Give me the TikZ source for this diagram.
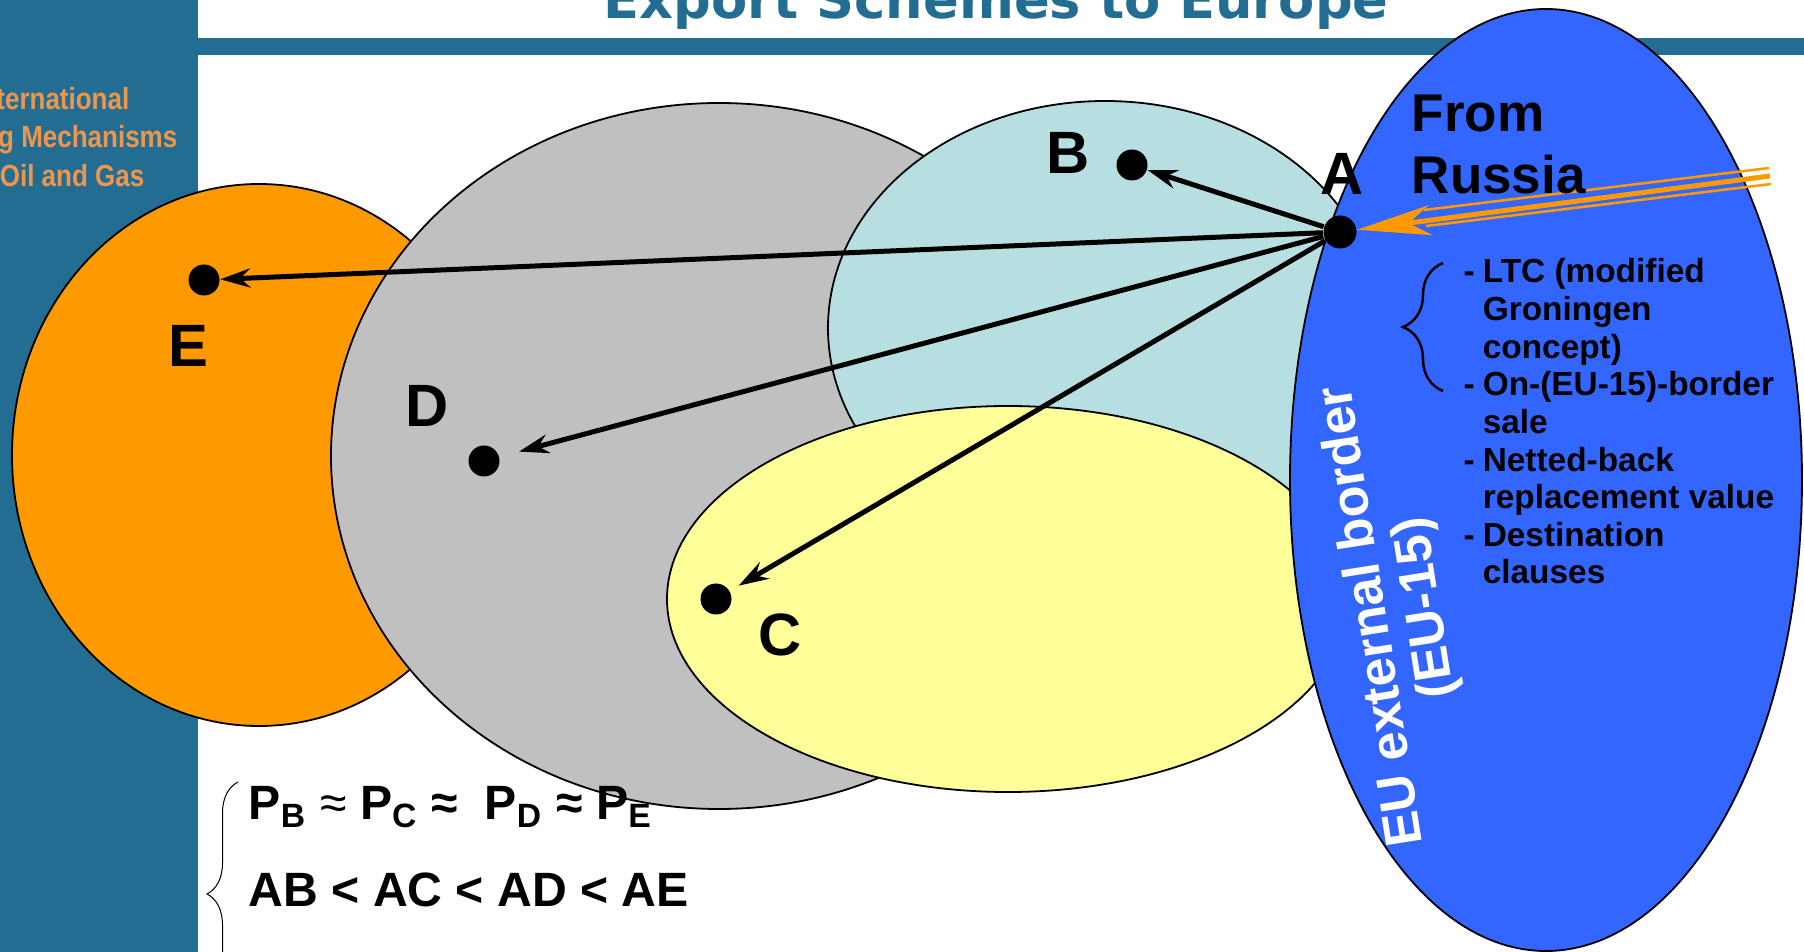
\documentclass[tikz,border=0pt]{standalone}
\usepackage{fontspec}
\setmainfont{Liberation Sans}
\newfontfamily\titlefont{DejaVu Sans}
\newfontfamily\narrowfont[FakeStretch=0.85]{Liberation Sans}
\usetikzlibrary{arrows.meta,decorations.pathreplacing}
\definecolor{panelblue}{RGB}{36,109,146}
\definecolor{euorange}{RGB}{255,153,0}
\definecolor{eugray}{RGB}{192,192,192}
\definecolor{eucyan}{RGB}{183,222,224}
\definecolor{euyellow}{RGB}{255,255,153}
\definecolor{eublue}{RGB}{51,102,255}
\definecolor{paneltext}{RGB}{240,150,75}

\tikzset{
  zone/.style={draw=black, line width=0.18mm},
  spot/.style={circle, fill=black, inner sep=0pt, minimum size=3.1mm},
  letter/.style={inner sep=0pt, font=\bfseries\fontsize{17}{17}\selectfont},
  flow/.style={-{Stealth[length=3mm,width=1.9mm,inset=1mm]}, line width=0.5mm},
  gasline/.style={euorange, line width=0.25mm},
  curly/.style={decorate, decoration={brace, amplitude=#1}},
}

\begin{document}
\begin{tikzpicture}[x=0.1mm, y=-0.1mm]
  \useasboundingbox (0,0) rectangle (1804,952);
  \clip (0,0) rectangle (1804,952);
  % slide frame
  \fill[panelblue] (0,0) rectangle (198,952);
  \fill[panelblue] (198,38) rectangle (1804,55);
  \node[anchor=base, inner sep=0pt, text=panelblue,
    font=\titlefont\bfseries\fontsize{15}{15}\selectfont] (title) at (996,19)
    {Export Schemes to Europe};
  \begin{scope}[every node/.style={anchor=base east, inner sep=0pt, text=paneltext,
      font=\narrowfont\bfseries\fontsize{8.7}{10.8}\selectfont}]
    \node (side1) at (130,110) {ternational};
    \node (side2) at (178,148) {g Mechanisms};
    \node (side3) at (145,187) {Oil and Gas};
  \end{scope}

  % market zones
  \filldraw[zone, fill=euorange] (259,455) ellipse [x radius=247, y radius=271];
  \filldraw[zone, fill=eugray] (719,456) ellipse [x radius=388, y radius=353];
  \filldraw[zone, fill=eucyan] (1105,328) ellipse [x radius=277, y radius=227];
  \filldraw[zone, fill=euyellow] (1008,599) ellipse [x radius=341, y radius=193];
  \filldraw[zone, fill=eublue] (1546,480) ellipse [x radius=256, y radius=471];

  \node[rotate=99, align=center, text=white, inner sep=0pt,
    font=\bfseries\fontsize{14.8}{15.4}\selectfont] (border) at (1400,612)
    {EU external border\\(EU-15)};

  % delivery points
  \node[spot, minimum size=3.3mm] (A) at (1340,232) {};
  \node[spot] (B) at (1132,165) {};
  \node[spot] (C) at (716,599) {};
  \node[spot] (D) at (484,461) {};
  \node[spot] (E) at (204,280) {};

  \node[letter] (labA) at (1342,174) {A};
  \node[letter] (labB) at (1068,153) {B};
  \node[letter] (labC) at (780,635) {C};
  \node[letter] (labD) at (427,406) {D};
  \node[letter] (labE) at (188,346) {E};

  \draw[flow] (A) -- (B);
  \draw[flow, shorten >=1mm] (A) -- (C);
  \draw[flow, shorten >=2mm] (A) -- (D);
  \draw[flow] (A) -- (E);

  % gas from Russia
  \coordinate (russia) at (1770,176);
  \coordinate (russiatop) at (1769,168);
  \coordinate (russiabot) at (1771,184);
  \coordinate (feedtop) at (1424,210);
  \coordinate (feedbot) at (1426,226);
  \draw[gasline] (russiatop) -- (feedtop);
  \draw[gasline] (russiabot) -- (feedbot);
  \draw[euorange, line width=0.5mm,
    -{Stealth[length=7.4mm,width=3mm,inset=2.2mm]}] (russia) -- (A);

  \node[anchor=base west, inner sep=0pt, font=\bfseries\fontsize{15.1}{17.4}\selectfont]
    (from) at (1411,132) {\begin{tabular}[t]{@{}l@{}}From\\Russia\end{tabular}};

  % pricing terms
  \node[anchor=base west, inner sep=0pt, font=\bfseries\fontsize{9.5}{10.7}\selectfont]
    (terms) at (1463,283) {\begin{tabular}[t]{@{}l@{\hspace{0.8mm}}l@{}}
      - & LTC (modified\\
        & Groningen\\
        & concept)\\
      - & On-(EU-15)-border\\
        & sale\\
      - & Netted-back\\
        & replacement value\\
      - & Destination\\
        & clauses
    \end{tabular}};
  \draw[curly=4mm, line width=0.25mm] (1443,391) -- (1443,263);

  % price and distance relations
  \node[anchor=base west, inner sep=0pt, font=\bfseries\fontsize{13.7}{13.7}\selectfont]
    (prices) at (248,820)
    {P\textsubscript{B} {\mdseries ≈} P\textsubscript{C} ≈\ \ P\textsubscript{D} ≈ P\textsubscript{E}};
  \node[anchor=base west, inner sep=0pt, font=\bfseries\fontsize{13.7}{13.7}\selectfont]
    (dist) at (248,907) {AB < AC < AD < AE};
  \draw[curly=3.1mm, line width=0.1mm] (238,1006) -- (238,782);
\end{tikzpicture}
\end{document}
